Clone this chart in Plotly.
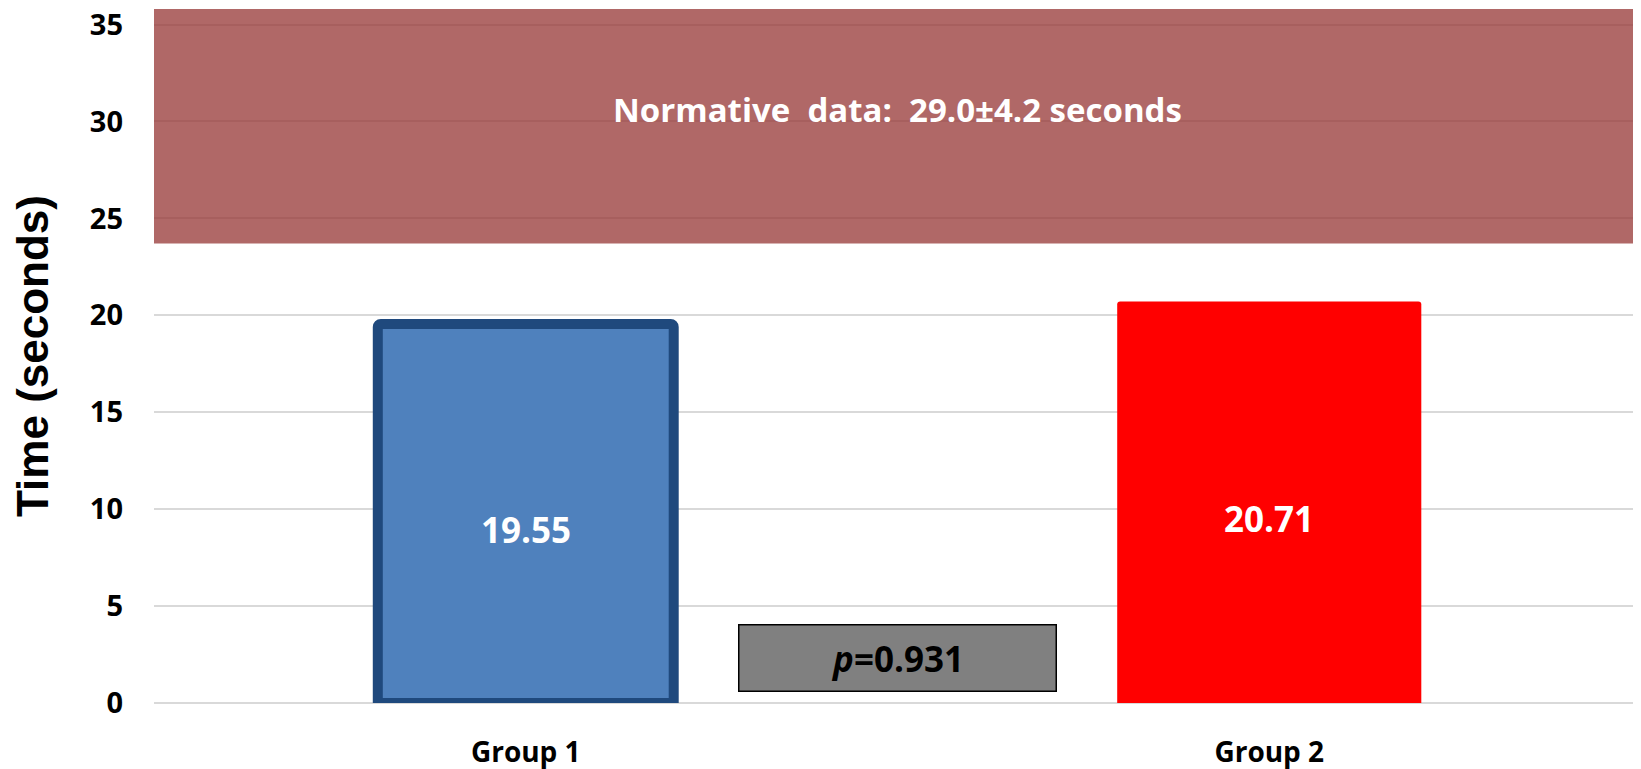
import plotly.graph_objects as go

# data
groups = ["Group 1", "Group 2"]
times = [19.55, 20.71]
time_labels = ["19.55", "20.71"]
normative_low = 23.7
normative_high = 35.8
normative_text = "Normative  data:  29.0±4.2 seconds"
p_text = "<i>p</i>=0.931"
y_ticks = [0, 5, 10, 15, 20, 25, 30, 35]

FONT = "Open Sans"

fig = go.Figure()

fig.add_trace(go.Bar(
    x=groups,
    y=times,
    width=[0.398, 0.409],
    marker=dict(
        color=["#4F81BD", "#FF0000"],
        line=dict(color=["#1F497D", "#FF0000"], width=[10, 0]),
        cornerradius=3,
    ),
    hoverinfo="skip",
    showlegend=False,
))

# normative band, semi-transparent so the gridlines show through darker
fig.add_shape(
    type="rect", xref="paper", yref="y",
    x0=0, x1=1, y0=normative_low, y1=normative_high,
    fillcolor="rgba(150,54,52,0.75)", line_width=0, layer="above",
)

fig.add_annotation(
    x=0.5, xref="paper", y=30.6, yref="y",
    text=normative_text, showarrow=False,
    font=dict(family=FONT, size=33, color="white", weight="bold"),
)

for g, v, lab in zip(groups, times, time_labels):
    fig.add_annotation(
        x=g, y=v / 2, text=lab, showarrow=False, yshift=-16,
        font=dict(family=FONT, size=35, color="white", weight="bold"),
    )

fig.add_annotation(
    x=0.5, y=2.34, text=p_text, showarrow=False,
    width=316, height=65, borderpad=0,
    bgcolor="#808080", bordercolor="#000000", borderwidth=1.5,
    font=dict(family=FONT, size=35, color="black", weight="bold"),
)

# page body has an 8px margin, so the figure is 8px smaller than the window
fig.update_layout(
    width=1633, height=761,
    margin=dict(l=146, r=0, t=1, b=66),
    paper_bgcolor="white", plot_bgcolor="white",
)
fig.update_xaxes(
    range=[-0.5, 1.5],
    showgrid=False, showline=False, zeroline=False,
    tickfont=dict(family=FONT, size=28, color="black", weight="bold"),
    ticklabelstandoff=30,
)
fig.update_yaxes(
    range=[0, normative_high],
    tickvals=y_ticks,
    showgrid=True, gridcolor="#D9D9D9", gridwidth=1.5,
    zeroline=True, zerolinecolor="#D9D9D9", zerolinewidth=1.5,
    tickfont=dict(family=FONT, size=29, color="black", weight="bold"),
    ticklabelstandoff=30,
    ticklabeloverflow="allow",
    automargin=False,
    title=dict(
        text="Time (seconds)",
        font=dict(family="Liberation Sans", size=44, color="black", weight="bold"),
        standoff=30,
    ),
)

fig.write_html("out.html")
